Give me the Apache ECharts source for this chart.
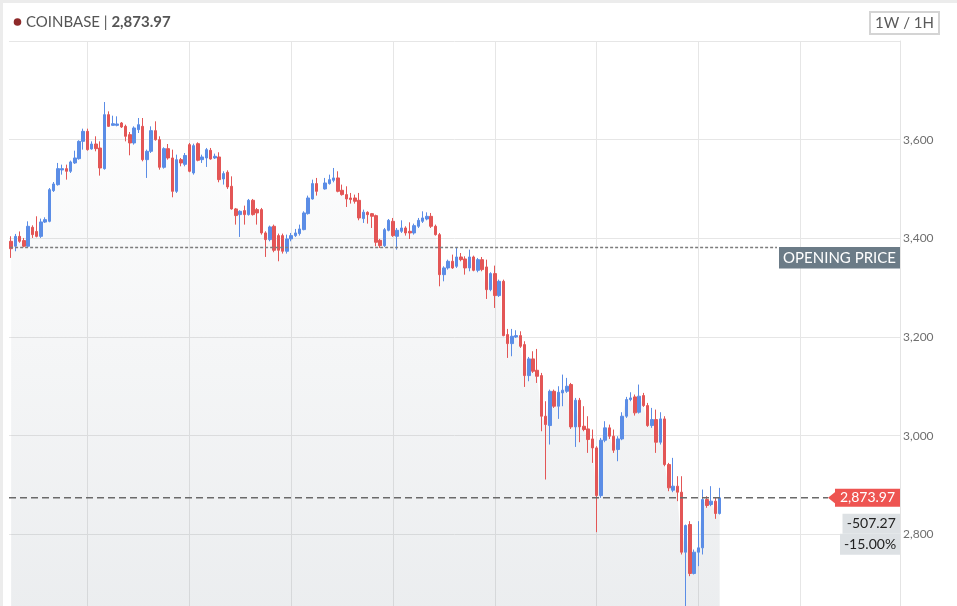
<!DOCTYPE html>
<html><head><meta charset="utf-8">
<script src="https://cdn.jsdelivr.net/npm/echarts@6/dist/echarts.min.js"></script>
<style>html,body{margin:0;padding:0;background:#fff;overflow:hidden;}#c{width:957px;height:640px;}</style>
</head><body><div id="c"></div>
<script>
const symbolName = 'COINBASE';
const rangeLabel = '1W / 1H';
const lastPrice = 2873.97;
const openingPrice = 3381.24;
const priceChange = -507.27;
const changePct = -15.00;
const yMin = 2600, yMax = 3800, yStep = 200;
const totalSlots = 210;
const dayLineSlots = [18, 42, 66, 90, 114, 138, 162, 186];

const opens = [3394,3384,3404,3395.4,3384,3422.4,3414,3404,3433,3434.5,3496.7,3508.8,3538.6,3541.3,3535.9,3552.8,3561.5,3596.6,3616.9,3581.2,3591.2,3583.1,3541.3,3650.7,3629,3629,3633.8,3627,3610.2,3593.3,3620.3,3627,3559.5,3576.4,3618.3,3600,3544,3581.8,3562.9,3495.3,3559.5,3550,
3589.9,3532.5,3591.9,3559.5,3562.9,3578.4,3562.9,3564.9,3520.3,3533.9,3505.5,3459.6,3448.1,3456.2,3448.1,3477.1,3458.2,3458.2,3411,3397.4,3424.4,3405.5,3405.5,3373.8,3398.8,3405.5,3409.6,3417.7,3450.1,3479.8,3510.9,null,3500.1,3510.9,3517.6,3522.4,3497.4,3488.6,3481.8,3481.8,3477.1,3440,
3452.7,3450,3446,3396,3385.2,3416.3,3434.5,3404.1,3414.2,3421,3414.2,3410.9,3424.4,3434.5,3439.2,3444.6,3424.4,3407.5,3326.4,3340,3353.5,3343.3,3362.2,3358.2,3340,3362.2,3335.2,3356.8,3342,3296,3328.5,3283.9,3312.9,3204.9,3186.6,3200.1,3202.8,3184.6,3121.8,3155.6,3132.6,3121.8,
3039.4,3020.5,3090,3059.7,3086.7,3090,3103.6,3017.8,3071.8,3019.1,3013.7,2993.4,2975.2,2878.6,2990.8,3015.8,2998.9,2971.9,2993.4,3039.4,3073.2,3078.6,3047.5,3081.3,3061,3020.5,3032.6,2986.7,3034,2941.4,2889.5,2897.6,2885.4,2763.8,2819.9,2720.6,2763.8,2772.6,2870.5,2860.4,2867.2,2842.2];
const closes = [3379,3404,3394,3384,3424.4,3407.5,3404,3433.2,3437.9,3498.7,3510.2,3541.3,3541.3,3535.9,3554.8,3562.9,3596.6,3616.9,3579.8,3591.2,3581.8,3542.6,3650.7,3627,3632.4,3631.8,3625.7,3606.8,3593.3,3623.7,3630.4,3559.5,3576.4,3618.3,3600,3544,3581.8,3562.9,3495.3,3559.5,3552.8,3568,
3535.9,3587.9,3558.2,3564.9,3579.8,3560.9,3566.3,3519,3531.2,3504.1,3459.6,3446.1,3454.8,3448.1,3477.1,3448.1,3451.5,3411,3397.4,3423.1,3375.8,3375.8,3373.8,3398.8,3405.5,3410.9,3419,3451.5,3481.8,3510.9,3495.3,null,3512.2,3519,3522.4,3495.3,3488.6,3479.8,3478.5,3475.1,3441.3,3453,
3448,3444.7,3392,3385.2,3417.6,3436.5,3405.5,3416.3,3421,3410.9,3410.9,3425.7,3436.5,3441.3,3444.6,3424.4,3407.5,3326.4,3340,3353.5,3340,3362.2,3356.8,3340,3362.2,3335.2,3356.8,3336.6,3296,3328.5,3283.9,3312.9,3202.8,3186.6,3201.5,3202.8,3181.2,3121.8,3155.6,3130.6,3120.4,3039.4,
3022.5,3090,3059.7,3088,3092.1,3100.2,3017.8,3071.8,3017.8,3012.4,2992.1,2975.2,2878.6,2990.8,3015.8,2998.9,2970.5,2993.4,3039.4,3073.2,3076.5,3046.2,3080,3061,3020.5,3032.6,2986.7,3034,2941.4,2894.2,2897.6,2885.4,2763.8,2817.9,2720.6,2763.8,2772.6,2870.5,2858.4,2867.2,2842.2,2873.97];
const lows = [3360.3,3373.8,3391,3381.9,3382,3400.8,3402,3400.8,3431.2,3432.5,3494,3506.8,3529.1,3519,3532.5,3550.7,3559.5,3579.8,3577.7,3579.8,3576.4,3527.1,3539.2,3625.7,3628.4,3627,3623.7,3596.6,3568.3,3589.9,3613.5,3556.1,3522.4,3573,3598,3539.2,3541.3,3559.5,3483.2,3492,3546,3546,
3533.9,3529.1,3556.1,3552.8,3544.7,3559.5,3560.9,3513.6,3508.9,3500.1,3458.2,3427.8,3402.8,3427.8,3446.1,3446.1,3427.8,3407.5,3362.3,3394,3371.8,3353.5,3369.1,3369.1,3394,3402.8,3405.5,3416.3,3448.1,3478.5,3486.6,null,3498.7,3508.9,3513.6,3493.3,3486.6,3463.6,3470.4,3470.4,3436.6,3431.2,
3429.8,3421,3383.8,3380.5,3382.5,3414.2,3402.8,3377.1,3410.9,3405.5,3398.7,3407.5,3421,3431.1,3436.5,3421,3405.5,3302.8,3312.9,3336.6,3338,3340,3353.5,3326.4,3333.2,3333.2,3331.2,3333.2,3277.1,3292.7,3258.9,3281.2,3201.5,3157.6,3161,3198.1,3177.9,3098.8,3110.3,3127.2,3106.9,3009,
2911.1,2982,3056.3,3034,3059.7,3086.7,3013.7,2977.2,2986.7,3009,2965.1,2944.8,2804.4,2873.9,2986.7,2993.4,2965.1,2948.2,2990.8,3036,3069.8,3040.7,3044.8,3058.3,3017.8,3015.8,2965.1,2982,2938,2887.4,2885.4,2867.2,2759.1,2640,2715.2,2718.6,2735.5,2759.1,2853.7,2857,2831.4,2840.2];
const highs = [3404.2,3408.9,3414,3400.8,3434.5,3426.4,3444.7,3440,3442.6,3502,3514.2,3552.8,3549.4,3549.4,3557.5,3577.7,3598.7,3622.3,3622.3,3596.6,3606.8,3596.6,3676.3,3657.4,3648.6,3647.3,3635.8,3630.4,3615.6,3627,3643.9,3643.9,3579.8,3627,3637.2,3606.8,3584.5,3591.2,3579.8,3569.6,3562.9,3573,
3593.3,3591.9,3594.6,3569.6,3583.2,3583.2,3571.7,3574.4,3535.9,3537.9,3525.7,3461.6,3456.9,3466.3,3479.8,3479.8,3461.6,3461.6,3414.3,3425.8,3427.8,3409.6,3409.6,3407.5,3410.9,3419,3427.8,3454.8,3486.6,3519,3522.4,null,3522.4,3529.1,3542.6,3535.9,3508.9,3505.5,3492,3488.6,3492,3458.2,
3454.8,3451.4,3448,3398.7,3421,3439.2,3441.3,3421,3436.5,3424.4,3432.5,3429.8,3441.3,3454.8,3452.7,3451.4,3427.8,3410.9,3343.3,3356.8,3367,3382.5,3370.3,3363.6,3377.1,3364.9,3360.2,3362.2,3356.8,3331.2,3344.7,3316.3,3316.3,3216.4,3216.4,3213.7,3211.6,3191.4,3159.6,3171.1,3175.8,3127.2,
3069.8,3093.4,3093.4,3100.2,3123.8,3117.1,3106.9,3076.5,3076.5,3059.7,3039.4,3012.4,2978.6,2995.5,3029.3,3022.5,3012.4,2998.9,3047.5,3078.6,3088,3083.3,3103.6,3086.7,3066.4,3056.3,3052.9,3047.5,3039.4,2944.8,2955,2917.8,2917.8,2819.9,2826.7,2769.2,2826.7,2890.8,2877.3,2897.6,2873.9,2894.2];

// hourly slots of the week
const categories = [];
for (let i = 0; i < totalSlots; i++) {
  const d = Math.floor((i + 6) / 24), h = (i + 6) % 24;
  categories.push('D' + (d + 1) + ' ' + String(h).padStart(2, '0') + ':00');
}
const candleData = opens.map((o, i) => o == null ? '-' : [o, closes[i], lows[i], highs[i]]);

const FONT = 'Lato, "Open Sans", sans-serif';
const GRID = {left: 9, top: 41, width: 891, height: 592};
const UP = '#5b8de6', DOWN = '#e35656';

const chart = echarts.init(document.getElementById('c'), null, {renderer: 'canvas'});
const fmt = v => v.toLocaleString('en-US', {minimumFractionDigits: 2, maximumFractionDigits: 2});

chart.setOption({
  animation: false,
  backgroundColor: '#fff',
  grid: Object.assign({containLabel: false, outerBoundsMode: 'none'}, GRID),
  xAxis: {
    type: 'category', data: categories, boundaryGap: true,
    axisLine: {show: false}, axisTick: {show: false}, axisLabel: {show: false}, splitLine: {show: false}
  },
  yAxis: {
    type: 'value', position: 'right', min: yMin, max: yMax, interval: yStep,
    axisLine: {show: true, lineStyle: {color: '#e4e4e4'}},
    axisTick: {show: false},
    axisLabel: {
      color: '#6f6f6f', fontFamily: FONT, fontSize: 12, margin: 3,
      showMaxLabel: false, showMinLabel: false,
      formatter: v => v.toLocaleString('en-US')
    },
    splitLine: {lineStyle: {color: '#e6e6e6', width: 1}}
  },
  series: [
    {
      type: 'line', data: closes, showSymbol: false, silent: true, z: 1,
      connectNulls: true,
      lineStyle: {width: 0, opacity: 0},
      areaStyle: {
        color: new echarts.graphic.LinearGradient(0, 100, 0, 606, [
          {offset: 0, color: 'rgba(100,115,130,0.01)'},
          {offset: 1, color: 'rgba(100,115,130,0.18)'}
        ], true)
      },
      markLine: {
        silent: true, symbol: 'none', z: 1, animation: false,
        label: {show: false},
        lineStyle: {color: '#e6e6e6', width: 1, type: 'solid'},
        data: dayLineSlots.map(s => ({xAxis: s}))
      }
    },
    {
      type: 'candlestick', data: candleData, barWidth: 3, z: 3, silent: true,
      itemStyle: {color: UP, color0: DOWN, borderColor: UP, borderColor0: DOWN, borderWidth: 1}
    }
  ]
});

const yOpen = chart.convertToPixel({yAxisIndex: 0}, openingPrice);
const yLast = chart.convertToPixel({yAxisIndex: 0}, lastPrice);
const xFirst = chart.convertToPixel({xAxisIndex: 0}, 0);
const gRight = GRID.left + GRID.width;

chart.setOption({
  graphic: [
    // outer frame
    {type: 'rect', shape: {x: 0, y: 0, width: 957, height: 3}, style: {fill: '#ececec'}, silent: true},
    {type: 'rect', shape: {x: 0, y: 0, width: 3, height: 640}, style: {fill: '#ececec'}, silent: true},
    // title
    {type: 'circle', shape: {cx: 17.5, cy: 22, r: 3.8}, style: {fill: '#8e2a2a'}, silent: true},
    {type: 'text', x: 26, y: 22, silent: true, style: {
      text: '{a|' + symbolName + ' | }{b|' + fmt(lastPrice) + '}',
      verticalAlign: 'middle', align: 'left',
      rich: {
        a: {fontFamily: FONT, fontSize: 15, fill: '#555555', fontWeight: 'normal'},
        b: {fontFamily: FONT, fontSize: 15, fill: '#555555', fontWeight: 'bold'}
      }
    }},
    // range button
    {type: 'rect', shape: {x: 870, y: 12, width: 69, height: 22}, style: {fill: '#fff', stroke: '#d4d4d4', lineWidth: 2}, silent: true},
    {type: 'text', x: 904.5, y: 23, silent: true, style: {text: rangeLabel, fontFamily: FONT, fontSize: 15, fill: '#5a5a5a', align: 'center', verticalAlign: 'middle'}},
    // opening price line & label
    {type: 'line', z: 10, silent: true, shape: {x1: xFirst - 1, y1: yOpen, x2: 777, y2: yOpen},
      style: {stroke: '#7d7d7d', lineWidth: 1.5, lineDash: [3, 2]}},
    {type: 'rect', z: 10, silent: true, shape: {x: 779, y: yOpen - 0.5, width: gRight - 779, height: 21.5}, style: {fill: '#6b7b87'}},
    {type: 'text', z: 11, silent: true, x: (779 + gRight) / 2, y: yOpen + 10.5,
      style: {text: 'OPENING PRICE', fontFamily: FONT, fontSize: 15, fill: '#fff', align: 'center', verticalAlign: 'middle'}},
    // last price line & labels
    {type: 'line', z: 10, silent: true, shape: {x1: GRID.left, y1: yLast, x2: 828, y2: yLast},
      style: {stroke: '#6a6a6a', lineWidth: 1.5, lineDash: [7, 4]}},
    {type: 'polygon', z: 10, silent: true, shape: {points: [[828, yLast], [835.5, yLast - 6], [835.5, yLast + 6]]}, style: {fill: '#ee5451'}},
    {type: 'rect', z: 10, silent: true, shape: {x: 835, y: yLast - 9, width: gRight - 835, height: 18}, style: {fill: '#ee5451'}},
    {type: 'text', z: 11, silent: true, x: (835 + gRight) / 2, y: yLast,
      style: {text: fmt(lastPrice), fontFamily: FONT, fontSize: 14, fill: '#fff', align: 'center', verticalAlign: 'middle'}},
    {type: 'rect', z: 10, silent: true, shape: {x: 842.5, y: yLast + 16, width: gRight - 842.5, height: 20}, style: {fill: '#dde1e4'}},
    {type: 'text', z: 11, silent: true, x: (842.5 + gRight) / 2, y: yLast + 26,
      style: {text: fmt(priceChange), fontFamily: FONT, fontSize: 14, fill: '#222', align: 'center', verticalAlign: 'middle'}},
    {type: 'rect', z: 10, silent: true, shape: {x: 840, y: yLast + 36, width: gRight - 840, height: 21}, style: {fill: '#dde1e4'}},
    {type: 'text', z: 11, silent: true, x: (840 + gRight) / 2, y: yLast + 46.5,
      style: {text: changePct.toFixed(2) + '%', fontFamily: FONT, fontSize: 14, fill: '#222', align: 'center', verticalAlign: 'middle'}}
  ]
});
</script></body></html>
